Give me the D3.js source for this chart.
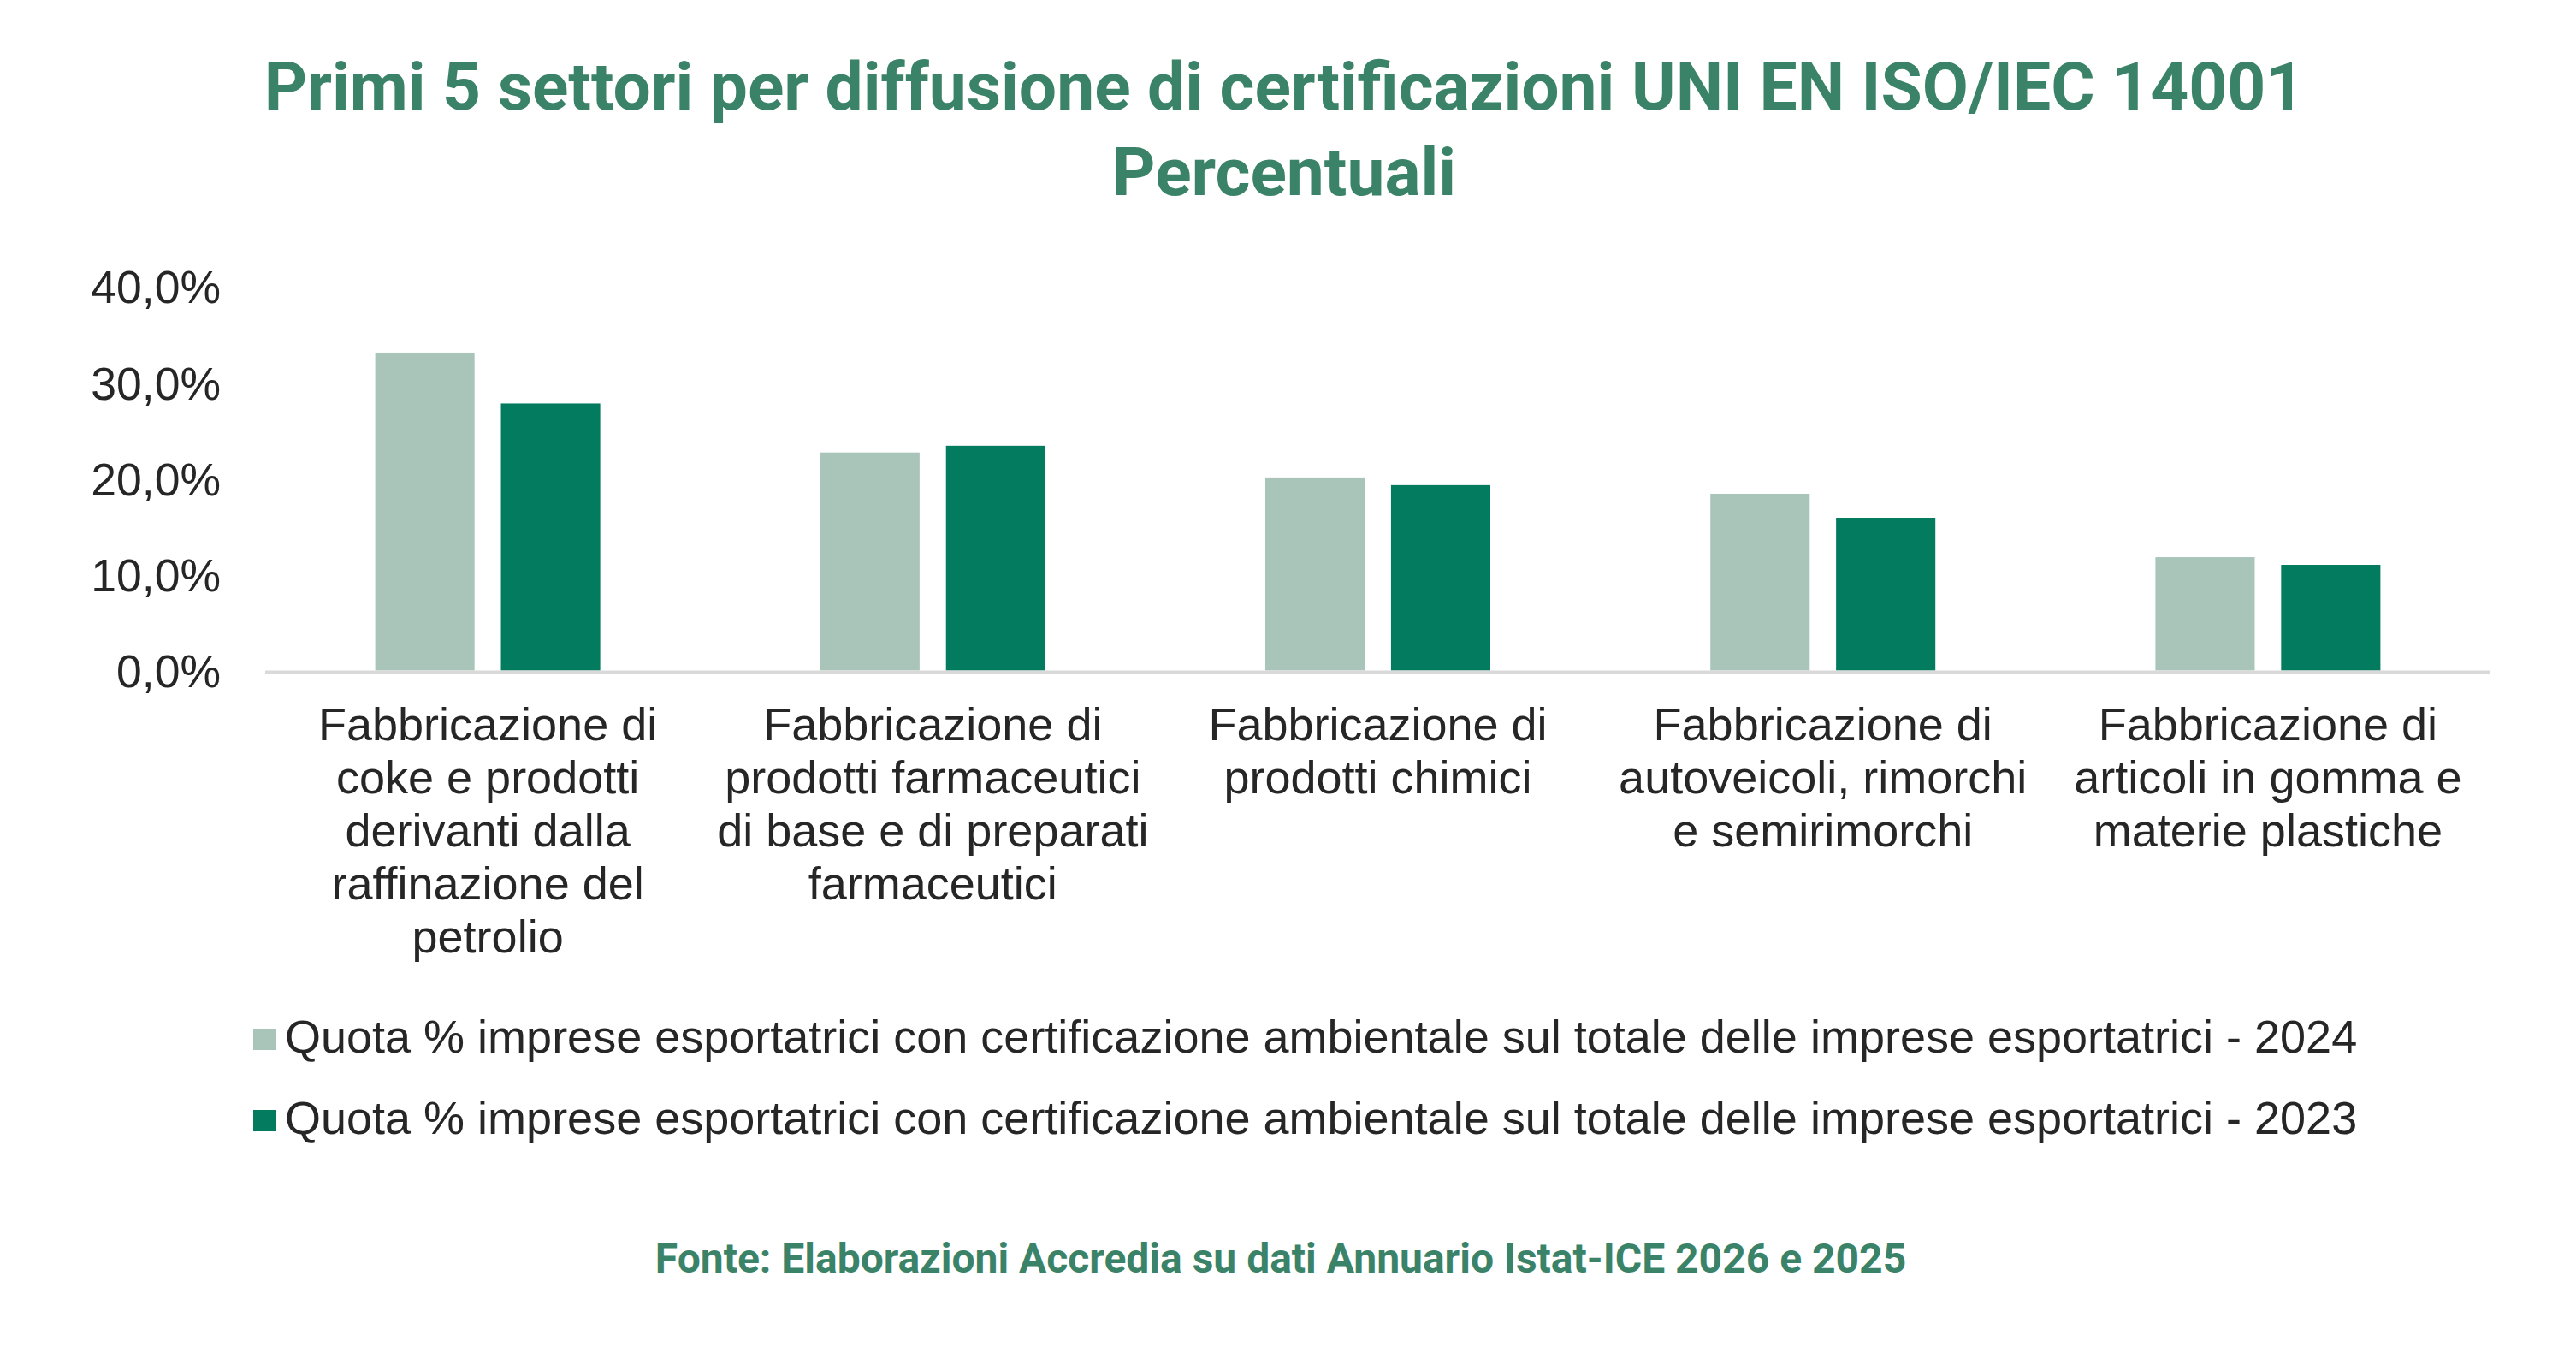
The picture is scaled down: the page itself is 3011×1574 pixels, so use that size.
<!DOCTYPE html>
<html>
<head>
<meta charset="utf-8">
<script src="https://cdn.jsdelivr.net/npm/d3@7"></script>
<style>
  html, body { margin: 0; padding: 0; background: #ffffff; }
  svg { display: block; }
</style>
</head>
<body>
<div id="chart"></div>
<script>
// ---- Data ----
const titleLines = ["Primi 5 settori per diffusione di certificazioni UNI EN ISO/IEC 14001", "Percentuali"];
const categories = [
  "Fabbricazione di\ncoke e prodotti\nderivanti dalla\nraffinazione del\npetrolio",
  "Fabbricazione di\nprodotti farmaceutici\ndi base e di preparati\nfarmaceutici",
  "Fabbricazione di\nprodotti chimici",
  "Fabbricazione di\nautoveicoli, rimorchi\ne semirimorchi",
  "Fabbricazione di\narticoli in gomma e\nmaterie plastiche"
];
const seriesNames = [
  "Quota % imprese esportatrici con certificazione ambientale sul totale delle imprese esportatrici - 2024",
  "Quota % imprese esportatrici con certificazione ambientale sul totale delle imprese esportatrici - 2023"
];
const values2024 = [33.1, 22.7, 20.1, 18.4, 11.8];
const values2023 = [27.8, 23.4, 19.3, 15.9, 11.0];
const yTicks = [0, 10, 20, 30, 40];
const sourceText = "Fonte: Elaborazioni Accredia su dati Annuario Istat-ICE 2026 e 2025";

// ---- Layout ----
const W = 3011, H = 1574;
const colors = ["#A9C5BA", "#027B5E"];
const titleColor = "#3A8368";
const textColor = "#262626";
const sansFont = "'Liberation Sans', Arial, sans-serif";
const titleFont = "Roboto, 'Noto Sans', sans-serif";

const plot = { left: 310, right: 2911, top: 334.5, bottom: 783.5 };

const svg = d3.select("#chart").append("svg")
  .attr("width", W).attr("height", H)
  .attr("viewBox", `0 0 ${W} ${H}`);

svg.append("rect").attr("width", W).attr("height", H).attr("fill", "#fff");

// Title
svg.append("g").selectAll("text").data(titleLines).join("text")
  .attr("x", 1501)
  .attr("y", (d, i) => 128 + i * 100)
  .attr("text-anchor", "middle")
  .attr("font-family", titleFont)
  .attr("font-weight", 700)
  .attr("font-size", 78.5)
  .attr("fill", titleColor)
  .text(d => d);

// Scales
const x0 = d3.scaleBand().domain(d3.range(categories.length)).range([plot.left, plot.right]).padding(0);
const groupW = 263;
const x1 = d3.scaleBand().domain([0, 1])
  .range([(x0.bandwidth() - groupW) / 2, (x0.bandwidth() + groupW) / 2])
  .paddingInner(0.21).paddingOuter(0);
const y = d3.scaleLinear().domain([0, 40]).range([plot.bottom, plot.top]);

// Y axis labels
const fmt = v => d3.format(".1f")(v).replace(".", ",") + "%";
const yAxis = d3.axisLeft(y).tickValues(yTicks).tickFormat(fmt).tickSize(0).tickPadding(0);
const yg = svg.append("g").attr("transform", `translate(258,0)`).call(yAxis);
yg.select(".domain").remove();
yg.selectAll("text")
  .attr("font-family", sansFont)
  .attr("font-size", 53.5)
  .attr("fill", textColor)
  .attr("dy", "0.36em");

// Bars
const seriesVals = [values2024, values2023];
const groups = svg.append("g").selectAll("g").data(categories).join("g")
  .attr("transform", (d, i) => `translate(${x0(i)},0)`);
groups.selectAll("rect").data((d, i) => seriesVals.map((s, k) => ({ k, v: s[i] }))).join("rect")
  .attr("x", d => x1(d.k))
  .attr("width", x1.bandwidth())
  .attr("y", d => y(d.v))
  .attr("height", d => y(0) - y(d.v))
  .attr("fill", d => colors[d.k]);

// Baseline
svg.append("line")
  .attr("x1", plot.left).attr("x2", plot.right)
  .attr("y1", y(0) + 2).attr("y2", y(0) + 2)
  .attr("stroke", "#D9D9D9").attr("stroke-width", 4);

// Category labels
const xAxis = d3.axisBottom(x0).tickFormat("").tickSize(0);
const xg = svg.append("g").attr("transform", `translate(0,${y(0)})`).call(xAxis);
xg.select(".domain").remove();
xg.selectAll(".tick").each(function(d) {
  const t = d3.select(this).append("text")
    .attr("text-anchor", "middle")
    .attr("font-family", sansFont)
    .attr("font-size", 54)
    .attr("fill", textColor);
  categories[d].split("\n").forEach((line, i) => {
    t.append("tspan").attr("x", 0).attr("y", 865 - y(0) + i * 62).text(line);
  });
});

// Legend
const leg = svg.append("g").selectAll("g").data(seriesNames).join("g")
  .attr("transform", (d, i) => `translate(0,${i * 95})`);
leg.append("rect")
  .attr("x", 296).attr("y", 1202).attr("width", 27).attr("height", 25)
  .attr("fill", (d, i) => colors[i]);
leg.append("text")
  .attr("x", 333).attr("y", 1230)
  .attr("font-family", sansFont)
  .attr("font-size", 54)
  .attr("fill", textColor)
  .text(d => d);

// Source
svg.append("text")
  .attr("x", 1497).attr("y", 1487)
  .attr("text-anchor", "middle")
  .attr("font-family", titleFont)
  .attr("font-weight", 700)
  .attr("font-size", 48)
  .attr("fill", titleColor)
  .text(sourceText);
</script>
</body>
</html>
